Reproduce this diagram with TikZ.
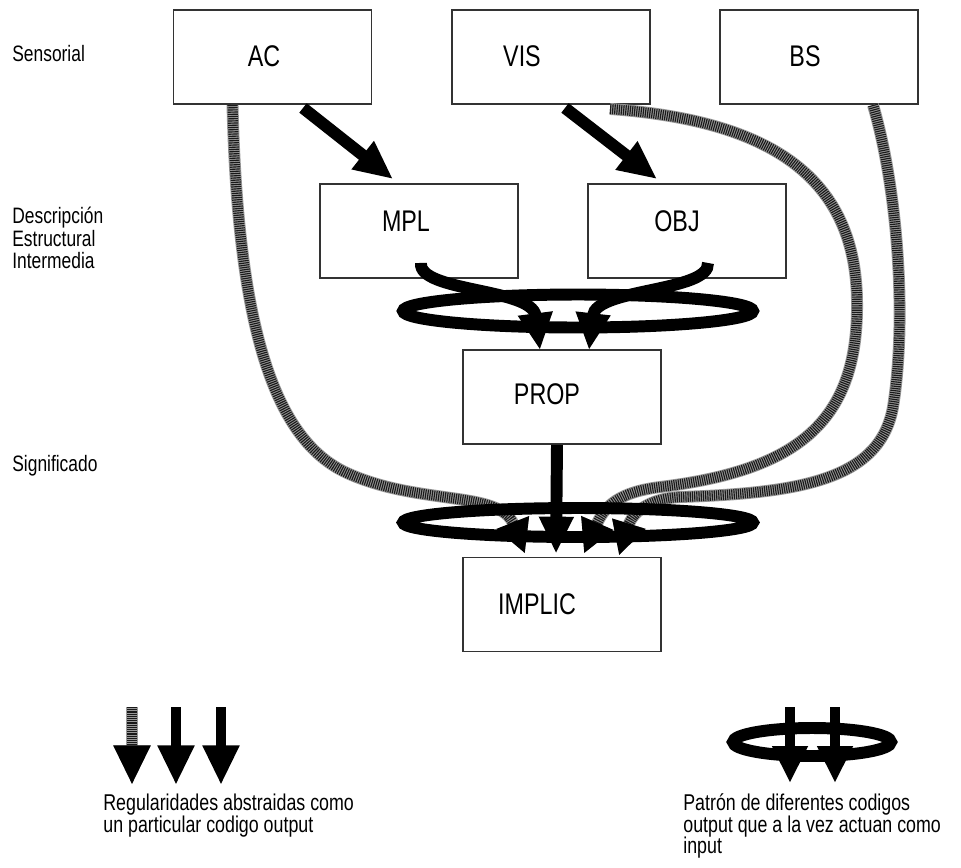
\documentclass[tikz,border=0pt]{standalone}
\usepackage{fontspec}
\setmainfont{Liberation Sans}[FakeStretch=0.78]
\usetikzlibrary{arrows.meta,calc,shapes.geometric}

\begin{document}
\begin{tikzpicture}[x=0.02cm,y=-0.02cm,
  box/.style={draw=black!80, line width=1.1pt, minimum width=3.96cm,
    minimum height=1.88cm, inner sep=0pt},
  boxtext/.style={font=\fontsize{17}{20}\selectfont, inner sep=0pt},
  sidetext/.style={font=\fontsize{12.7}{15}\selectfont, anchor=base west, inner sep=0pt},
  legtext/.style={font=\fontsize{13}{15}\selectfont, anchor=base west, inner sep=0pt},
  ring/.style={ellipse, draw=black, line width=6.8pt, inner sep=0pt, outer sep=0pt},
  bigarrow/.style={line width=6.8pt, line cap=butt, -{Triangle[length=22pt,width=19pt]}},
  curlarrow/.style={line width=6.8pt, line cap=butt, -{Triangle[length=21pt,width=18.5pt]}},
  hatchbase/.style={line width=6.8pt, draw=black!40, line cap=butt,
    -{Triangle[length=19pt,width=18.5pt]}},
  hatchtop/.style={line width=5.8pt, draw=black!90, line cap=butt,
    dash pattern=on 0.65pt off 0.6pt, -{Triangle[length=19pt,width=18.5pt,color=black]}},
]
\useasboundingbox (0,0) rectangle (961,867);

% level labels
\node[sidetext] (lsens) at (12,61) {Sensorial};
\node[sidetext] (ldesc1) at (12,223) {Descripción};
\node[sidetext] (ldesc2) at (12,246.5) {Estructural};
\node[sidetext] (ldesc3) at (12,268) {Intermedia};
\node[sidetext] (lsig) at (12,471) {Significado};

% boxes
\node[box] (AC) at (272.5,57) {};
\node[box] (VIS) at (551,57) {};
\node[box] (BS) at (819,57) {};
\node[box] (MPL) at (419,231) {};
\node[box] (OBJ) at (687,231) {};
\node[box] (PROP) at (562,397) {};
\node[box] (IMPLIC) at (562,604.5) {};

\node[boxtext] (tAC) at ($(AC)+(-8.5,-1)$) {AC};
\node[boxtext] (tVIS) at ($(VIS)+(-29,-1)$) {VIS};
\node[boxtext] (tBS) at ($(BS)+(-14,-1)$) {BS};
\node[boxtext] (tMPL) at ($(MPL)+(-13,-10)$) {MPL};
\node[boxtext] (tOBJ) at ($(OBJ)+(-10,-10)$) {OBJ};
\node[boxtext] (tPROP) at ($(PROP)+(-15,-3)$) {PROP};
\node[boxtext] (tIMPLIC) at ($(IMPLIC)+(-25,0)$) {IMPLIC};

% hatched connectors: sensory codes straight down to the implications
\foreach \s in {hatchbase,hatchtop} {
  \draw[\s] ($(AC.south)+(-40,0)$) .. controls (238,330) and (275,440) .. (347,473)
    .. controls (420,506) and (500,490) .. ($(IMPLIC.north)+(-37,-3)$);
  \draw[\s] ($(VIS.south)+(59,4)$) .. controls (760,120) and (855,170) .. (857,300)
    .. controls (859,420) and (800,470) .. (660,487)
    .. controls (620,492) and (605,505) .. ($(IMPLIC.north)+(22,-3)$);
  \draw[\s] ($(BS.south)+(54,0)$) .. controls (898,190) and (907,320) .. (893,407)
    .. controls (880,480) and (800,493) .. (680,497)
    .. controls (640,499) and (630,520) .. ($(IMPLIC.north)+(57,-1)$);
}

% rings: patterns of several codes acting as input
\node[ring, minimum width=7cm, minimum height=0.66cm] (ring1) at (578,311) {};
\node[ring, minimum width=7cm, minimum height=0.58cm] (ring2) at (578,522.5) {};

% solid connectors
\draw[bigarrow] ($(AC.south)+(30.5,3)$) -- ($(MPL.north)+(-26,-4)$);
\draw[bigarrow] ($(VIS.south)+(14,3)$) -- ($(OBJ.north)+(-30,-4)$);
\draw[curlarrow] ($(MPL.south)+(2,-16)$) .. controls (418,292) and (532,288) .. ($(PROP.north)+(-22,1)$);
\draw[curlarrow] ($(OBJ.south)+(21,-16)$) .. controls (710,292) and (596,288) .. ($(PROP.north)+(27,1)$);
\draw[curlarrow] ($(PROP.south)+(-5,0)$) -- ($(IMPLIC.north)+(-6,-3)$);

% legend, left
\coordinate (la1) at (132,707); \coordinate (la1e) at (132,785);
\coordinate (la2) at (176,707); \coordinate (la2e) at (176,785);
\coordinate (la3) at (221,707); \coordinate (la3e) at (221,785);
\draw[line width=6.8pt, draw=black!40, line cap=butt, -{Triangle[length=22.5pt,width=19.5pt]}] (la1) -- (la1e);
\draw[line width=5.8pt, draw=black!90, line cap=butt, dash pattern=on 0.65pt off 0.6pt,
  -{Triangle[length=22.5pt,width=19.5pt,color=black]}] (la1) -- (la1e);
\draw[line width=6.2pt, line cap=butt, -{Triangle[length=22.5pt,width=19.5pt]}] (la2) -- (la2e);
\draw[line width=6.2pt, line cap=butt, -{Triangle[length=22.5pt,width=19.5pt]}] (la3) -- (la3e);
\node[legtext] (lt1) at (103,810) {Regularidades abstraidas como};
\node[legtext] (lt2) at (103,832) {un particular codigo output};

% legend, right
\coordinate (rb1) at (790,707); \coordinate (rb1e) at (790,783);
\coordinate (rb2) at (835,707); \coordinate (rb2e) at (835,783);
\node[ring, minimum width=3.16cm, minimum height=0.56cm] (ring3) at (812,742) {};
\draw[line width=6.2pt, line cap=butt, -{Triangle[length=21pt,width=19pt]}] (rb1) -- (rb1e);
\draw[line width=6.2pt, line cap=butt, -{Triangle[length=21pt,width=19pt]}] (rb2) -- (rb2e);
\node[legtext] (rt1) at (683,810) {Patrón de diferentes codigos};
\node[legtext] (rt2) at (683,832) {output que a la vez actuan como};
\node[legtext] (rt3) at (683,853) {input};
\end{tikzpicture}
\end{document}
